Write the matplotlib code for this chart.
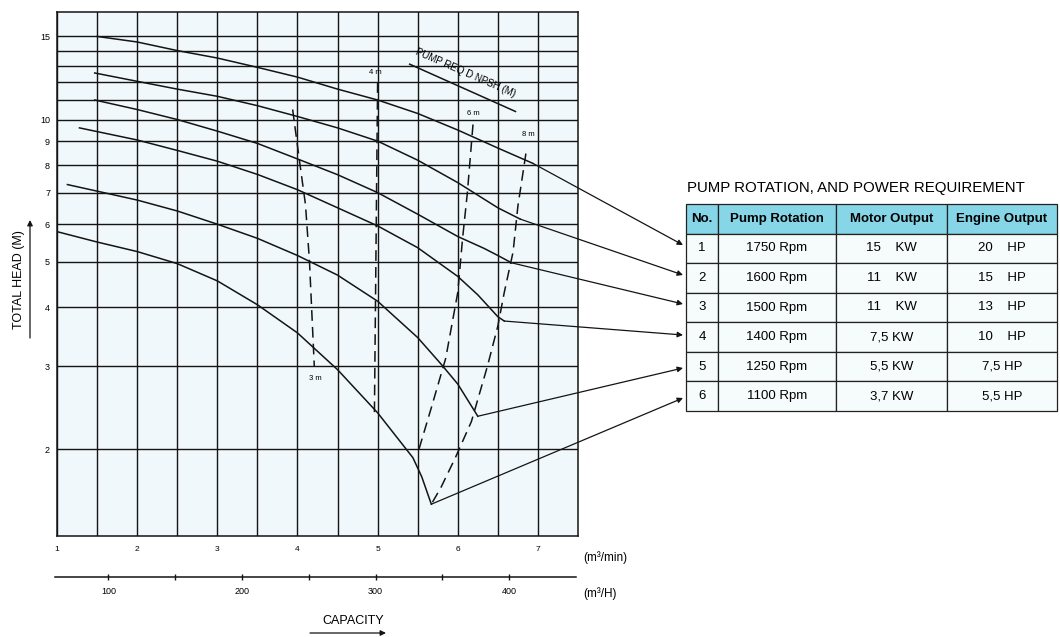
import numpy as np
import matplotlib.pyplot as plt
from matplotlib.ticker import NullFormatter

plt.rcParams['font.family'] = ['Liberation Sans', 'DejaVu Sans']

# pump curves: capacity (m3/min) vs total head (m), one per rotation speed
q_1750 = [1.5, 2.0, 2.5, 3.0, 3.5, 4.0, 4.5, 5.0, 5.5, 6.0, 6.5, 6.94]
h_1750 = [15.0, 14.6, 14.0, 13.5, 12.9, 12.3, 11.6, 11.0, 10.3, 9.5, 8.7, 8.07]
q_1600 = [1.47, 2.0, 2.5, 3.0, 3.5, 4.0, 4.5, 5.0, 5.5, 6.0, 6.5, 6.78]
h_1600 = [12.55, 12.05, 11.6, 11.2, 10.7, 10.15, 9.6, 9.0, 8.2, 7.35, 6.5, 6.15]
q_1500 = [1.47, 2.0, 2.5, 3.0, 3.5, 4.0, 4.5, 5.0, 5.5, 6.0, 6.33, 6.5, 6.67]
h_1500 = [11.0, 10.5, 10.0, 9.45, 8.9, 8.25, 7.64, 7.0, 6.3, 5.65, 5.33, 5.15, 4.97]
q_1400 = [1.28, 2.0, 2.5, 3.0, 3.5, 4.0, 4.5, 5.0, 5.5, 6.0, 6.25, 6.5, 6.58]
h_1400 = [9.6, 9.05, 8.6, 8.16, 7.65, 7.1, 6.5, 5.95, 5.35, 4.65, 4.25, 3.82, 3.74]
q_1250 = [1.13, 1.5, 2.0, 2.5, 3.0, 3.5, 4.0, 4.5, 5.0, 5.5, 5.8, 6.0, 6.25]
h_1250 = [7.28, 7.05, 6.75, 6.4, 6.0, 5.6, 5.15, 4.68, 4.12, 3.45, 3.02, 2.75, 2.35]
q_1100 = [1.01, 1.5, 2.0, 2.5, 3.0, 3.5, 4.0, 4.5, 5.0, 5.44, 5.55, 5.67]
h_1100 = [5.78, 5.5, 5.25, 4.95, 4.55, 4.05, 3.53, 2.95, 2.39, 1.92, 1.75, 1.53]

curves_q = [q_1750, q_1600, q_1500, q_1400, q_1250, q_1100]
curves_h = [h_1750, h_1600, h_1500, h_1400, h_1250, h_1100]

# required NPSH lines
npsh_labels = ['3 m', '4 m', '6 m', '8 m']
npsh_q = [[3.94, 4.02, 4.10, 4.15, 4.21],
          [5.00, 4.96],
          [6.19, 6.12, 6.06, 6.00, 5.85, 5.67, 5.50],
          [6.85, 6.75, 6.69, 6.58, 6.50, 6.37, 6.17, 5.97, 5.79, 5.67]]
npsh_h = [[10.5, 8.3, 6.6, 5.0, 3.0],
          [12.0, 2.38],
          [9.76, 7.0, 5.6, 4.3, 3.12, 2.45, 1.96],
          [8.47, 6.55, 5.24, 4.3, 3.65, 3.0, 2.29, 1.92, 1.66, 1.53]]
npsh_label_q = [4.22, 4.97, 6.19, 6.88]
npsh_label_h = [2.83, 12.6, 10.3, 9.3]

y_ticks = [2, 3, 4, 5, 6, 7, 8, 9, 10, 15]
y_minor = [11, 12, 13, 14]
x_ticks = [1, 2, 3, 4, 5, 6, 7]
x_minor = [1.5, 2.5, 3.5, 4.5, 5.5, 6.5, 7.0]
qh_ticks = [100, 200, 300, 400]
qh_minor = [150, 250, 350]

# table
table_title = 'PUMP ROTATION, AND POWER REQUIREMENT'
col_labels = ['No.', 'Pump Rotation', 'Motor Output', 'Engine Output']
col_no = ['1', '2', '3', '4', '5', '6']
col_rpm = ['1750 Rpm', '1600 Rpm', '1500 Rpm', '1400 Rpm', '1250 Rpm', '1100 Rpm']
col_motor = ['15    KW', '11    KW', '11    KW', '7,5 KW', '5,5 KW', '3,7 KW']
col_engine = ['20    HP', '15    HP', '13    HP', '10    HP', '7,5 HP', '5,5 HP']

W, H = 1060, 637
fig = plt.figure(figsize=(10.6, 6.37), dpi=100)
fig.patch.set_facecolor('white')

def fx(px):
    return px / W

def fy(py):
    return 1 - py / H

ink = '#141414'

ax = fig.add_axes([fx(57), fy(536), fx(578) - fx(57), fy(12) - fy(536)])
ax.set_facecolor('#f1f8fb')
ax.set_yscale('log')
ax.set_xlim(1, 7.5)
ax.set_ylim(1.31, 16.9)

ax.set_xticks(x_ticks, labels=[str(v) for v in x_ticks])
ax.set_xticks(x_minor, minor=True)
ax.set_yticks(y_ticks, labels=[str(v) for v in y_ticks])
ax.set_yticks(y_minor, minor=True)
ax.yaxis.set_minor_formatter(NullFormatter())
ax.tick_params(which='both', length=0)
ax.tick_params(axis='x', labelsize=6, pad=7)
ax.tick_params(axis='y', labelsize=6.5, pad=5)
ax.grid(True, which='both', color=ink, lw=1.0)
for s in ax.spines.values():
    s.set_linewidth(1.1)
    s.set_color(ink)

for q, h in zip(curves_q, curves_h):
    ax.plot(q, h, color=ink, lw=1.1)

for q, h, lab, lq, lh in zip(npsh_q, npsh_h, npsh_labels, npsh_label_q, npsh_label_h):
    ax.plot(q, h, color=ink, lw=1.1, ls=(0, (7, 4)))
    ax.text(lq, lh, lab, fontsize=5.5, ha='center', va='center')

# NPSH caption with underline
ax.plot([5.4, 6.72], [13.1, 10.4], color=ink, lw=1.1)
ax.text(6.1, 12.55, 'PUMP REQ D NPSH (M)', fontsize=7, ha='center', va='center',
        rotation=-23.5, rotation_mode='anchor')

# arrows from each curve end to its table row
row_targets = [245, 275, 304, 335, 368, 398]
for q, h, ty in zip(curves_q, curves_h, row_targets):
    ax.annotate('', xy=(fx(683), fy(ty)), xycoords='figure fraction',
                xytext=(q[-1], h[-1]), textcoords='data',
                arrowprops=dict(arrowstyle='-|>', color=ink, lw=0.9,
                                shrinkA=0, shrinkB=0, mutation_scale=8),
                annotation_clip=False)

# secondary capacity scale in m3/H
ax2 = fig.add_axes([fx(55), fy(577), fx(576) - fx(55), 0.0001])
ax2.set_facecolor('none')
ax2.set_xlim(60, 450)
ax2.set_yticks([])
for side in ['top', 'left', 'right']:
    ax2.spines[side].set_visible(False)
ax2.spines['bottom'].set_linewidth(1.1)
ax2.spines['bottom'].set_color(ink)
ax2.set_xticks(qh_ticks, labels=[str(v) for v in qh_ticks])
ax2.set_xticks(qh_minor, minor=True)
ax2.tick_params(which='both', direction='inout', length=5, width=1.0, color=ink)
ax2.tick_params(axis='x', labelsize=6.5, pad=5)

fig.text(fx(583), fy(558), '(m³/min)', fontsize=8.5, va='center', ha='left')
fig.text(fx(583), fy(594), '(m³/H)', fontsize=8.5, va='center', ha='left')
fig.text(fx(353), fy(621), 'CAPACITY', fontsize=9, va='center', ha='center')
fig.add_artist(plt.Annotation('', xy=(fx(386), fy(633)), xycoords='figure fraction',
                              xytext=(fx(310), fy(633)), textcoords='figure fraction',
                              arrowprops=dict(arrowstyle='-|>', color=ink, lw=0.9,
                                              mutation_scale=8, shrinkA=0, shrinkB=0)))
fig.text(fx(19), fy(280), 'TOTAL HEAD (M)', fontsize=9, rotation=90,
         va='center', ha='center')
fig.add_artist(plt.Annotation('', xy=(fx(30), fy(220)), xycoords='figure fraction',
                              xytext=(fx(30), fy(338)), textcoords='figure fraction',
                              arrowprops=dict(arrowstyle='-|>', color=ink, lw=0.9,
                                              mutation_scale=8, shrinkA=0, shrinkB=0)))

# table of rotation and power
fig.text(fx(687), fy(188), table_title, fontsize=10.8, va='center', ha='left')
tab = fig.add_axes([fx(686), fy(411), fx(1057) - fx(686), fy(204) - fy(411)])
tab.axis('off')
cells = [list(r) for r in zip(col_no, col_rpm, col_motor, col_engine)]
widths = np.array([32, 118, 111, 110], dtype=float)
t = tab.table(cellText=cells, colLabels=col_labels, cellLoc='center',
              colWidths=list(widths / widths.sum()), bbox=[0, 0, 1, 1])
t.auto_set_font_size(False)
t.set_fontsize(9.5)
for (r, c), cell in t.get_celld().items():
    cell.set_edgecolor('#222222')
    cell.set_linewidth(0.9)
    if r == 0:
        cell.set_facecolor('#86d6e8')
        cell.get_text().set_fontweight('bold')
        cell.get_text().set_fontsize(9.5)
    else:
        cell.set_facecolor('#f6fbfc')

fig.savefig('out.png', dpi=100, facecolor='white')
